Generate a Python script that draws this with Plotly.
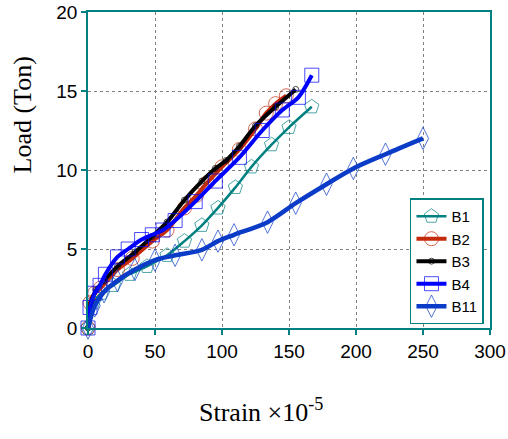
import plotly.graph_objects as go

# ---- data ----
b1_strain = [0, 4, 10, 19, 31, 44, 59, 72, 85, 97, 110, 122, 137, 150, 167]
b1_load = [0, 1.6, 2.2, 2.7, 3.4, 3.9, 4.6, 5.5, 6.5, 7.6, 8.9, 10.2, 11.6, 12.7, 14.0]

b2_strain = [0, 1.5, 5, 9, 22, 33, 48, 59, 72, 81, 89, 100, 113, 125, 133, 140, 148]
b2_load = [0, 1.6, 2.2, 2.5, 3.7, 4.4, 5.5, 6.2, 7.6, 8.4, 9.2, 10.2, 11.3, 12.6, 13.6, 14.2, 14.7]

b3_strain = [0, 2, 6, 12, 22, 35, 48, 59, 72, 85, 95, 103, 113, 125, 140, 155]
b3_load = [0, 1.5, 2.4, 3.0, 3.9, 4.8, 5.8, 6.7, 8.1, 9.3, 10.1, 10.6, 11.5, 12.8, 14.0, 15.1]

b4_strain = [0, 1.5, 5, 9, 13, 22, 30, 40, 48, 56, 65, 80, 95, 113, 130, 145, 157, 167]
b4_load = [0, 1.3, 2.2, 2.7, 3.4, 4.5, 5.0, 5.6, 5.9, 6.2, 6.8, 8.0, 9.3, 10.8, 12.5, 13.8, 14.6, 16.0]

b11_strain = [0, 5, 12, 22, 35, 50, 65, 85, 97, 109, 134, 155, 178, 198, 222, 250]
b11_load = [0, 1.4, 2.3, 3.0, 3.7, 4.3, 4.6, 4.95, 5.5, 5.9, 6.7, 7.9, 9.1, 10.1, 11.0, 12.0]

x_ticks = [0, 50, 100, 150, 200, 250, 300]
y_ticks = [0, 5, 10, 15, 20]

TEAL = "#008080"

series = [
    ("B1", b1_strain, b1_load, TEAL, 2.5, "pentagon-open", 15),
    ("B2", b2_strain, b2_load, "#C42A0A", 4, "circle-open", 14),
    ("B3", b3_strain, b3_load, "#000000", 4, "circle-open", 6),
    ("B4", b4_strain, b4_load, "#0000FF", 4, "square-open", 14),
    ("B11", b11_strain, b11_load, "#0A3CC8", 4.5, "diamond-tall-open", 16),
]

fig = go.Figure()
for name, xs, ys, color, lw, sym, ms in series:
    fig.add_trace(go.Scatter(
        x=xs, y=ys, name=name, mode="lines+markers",
        line=dict(color=color, width=lw, shape="spline", smoothing=0.8),
        marker=dict(symbol=sym, size=ms, color=color, line=dict(width=1, color=color),
                    opacity=0.7),
        cliponaxis=False,
    ))

axis_common = dict(
    showline=True, linecolor=TEAL, linewidth=1.5, mirror=True,
    ticks="outside", tickcolor=TEAL, ticklen=5, tickwidth=1.5,
    showgrid=True, gridcolor="#808080", griddash="dot", gridwidth=1,
    zeroline=False, automargin=False,
    tickfont=dict(family="Arial, Liberation Sans", size=19, color="black"),
)

fig.update_layout(
    width=508, height=439,
    margin=dict(l=88, r=18, t=12, b=111),
    paper_bgcolor="white", plot_bgcolor="white",
    xaxis=dict(range=[0, 300], tickvals=x_ticks, **axis_common),
    yaxis=dict(range=[0, 20], tickvals=y_ticks, **axis_common),
    showlegend=True,
    legend=dict(
        x=0.985, y=0.41, xanchor="right", yanchor="top",
        bgcolor="white", bordercolor=TEAL, borderwidth=1.5,
        font=dict(family="Arial, Liberation Sans", size=15, color="black"),
        itemwidth=30, tracegroupgap=2,
    ),
    annotations=[
        dict(text="Load (Ton)", xref="paper", yref="paper", x=-0.163, y=0.674,
             xanchor="center", yanchor="middle",
             textangle=-90, showarrow=False,
             font=dict(family="Times New Roman, Liberation Serif", size=26, color="black")),
        dict(text="Strain ×10<sup>-5</sup>", xref="paper", yref="paper", x=0.43, y=-0.26,
             xanchor="center", yanchor="middle",
             showarrow=False,
             font=dict(family="Times New Roman, Liberation Serif", size=26, color="black")),
    ],
)

fig.write_html("out.html")
